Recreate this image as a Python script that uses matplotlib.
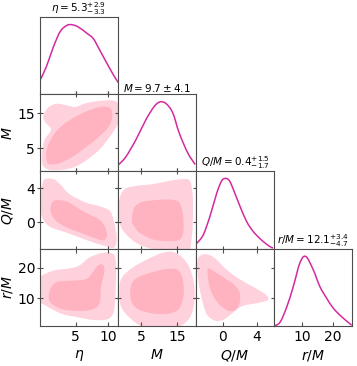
import numpy as np
import matplotlib
matplotlib.use("Agg")
import matplotlib.pyplot as plt
from matplotlib.path import Path
from matplotlib.patches import PathPatch

# parameters
labels = [r"$\eta$", r"$M$", r"$Q/M$", r"$r/M$"]
titles = [r"$\eta = 5.3^{+2.9}_{-3.3}$", r"$M = 9.7 \pm 4.1$",
          r"$Q/M = 0.4^{+1.5}_{-1.7}$", r"$r/M = 12.1^{+3.4}_{-4.7}$"]
limits = [(-0.5, 11.5), (-1.5, 20.3), (-3.1, 6.0), (0.8, 26.3)]
ticks = [[5, 10], [5, 15], [0, 4], [10, 20]]

# 1D marginals (relative density)
eta_x = [-0.5, 0.5, 1.55, 2.6, 3.6, 4.4, 5.4, 6.7, 7.7, 8.7, 9.8, 10.8, 11.55]
eta_pdf = [0.18, 0.36, 0.61, 0.81, 0.89, 0.90, 0.87, 0.79, 0.72, 0.57, 0.40, 0.25, 0.15]
M_x = [-1.3, 0.7, 3.5, 6.3, 8.6, 10.2, 11.9, 13.8, 15.6, 18.0, 20.1]
M_pdf = [0.09, 0.19, 0.41, 0.67, 0.84, 0.90, 0.88, 0.76, 0.50, 0.24, 0.09]
QM_x = [-3.0, -2.25, -1.47, -0.68, -0.1, 0.35, 0.8, 1.25, 2.03, 2.82, 3.6, 4.57, 5.5, 5.9]
QM_pdf = [0.07, 0.18, 0.42, 0.72, 0.88, 0.91, 0.88, 0.77, 0.55, 0.35, 0.22, 0.11, 0.03, 0.01]
rM_x = [0.8, 2.8, 5.0, 7.1, 9.3, 11.2, 13.6, 15.8, 18.0, 20.2, 22.9, 26.2]
rM_pdf = [0.0, 0.05, 0.25, 0.51, 0.82, 0.90, 0.73, 0.51, 0.36, 0.23, 0.12, 0.01]

# 2D credible regions (outer = 95%, inner = 68%), boundary points
eta_M_outer = [(0.0, 14.0), (0.7, 16.4), (2.0, 17.6), (3.8, 17.1), (5.0, 16.7), (6.6, 17.8),
               (9.1, 18.5), (11.2, 18.3), (11.8, 15.9), (11.6, 12.2), (9.1, 5.6), (7.1, 2.3),
               (5.0, -0.1), (3.0, -1.0), (0.9, -1.0), (-0.1, 0.4), (-0.2, 3.7), (0.2, 7.4),
               (1.2, 10.3), (0.4, 12.2)]
eta_M_inner = [(0.6, 1.0), (0.5, 4.5), (1.5, 8.6), (3.0, 11.6), (5.0, 14.0), (7.1, 15.8),
               (9.1, 16.8), (10.4, 16.2), (10.6, 13.8), (10.0, 11.0), (8.4, 8.0), (6.6, 5.4),
               (4.5, 2.6), (2.7, 1.0), (1.5, 0.5)]
eta_QM_outer = [(0.27, 5.1), (1.55, 5.1), (2.6, 4.5), (4.1, 3.3), (6.7, 2.3), (8.7, 1.9),
                (10.3, 1.3), (11.0, -0.3), (11.3, -2.0), (10.8, -3.0), (9.2, -2.7), (6.7, -2.1),
                (3.6, -1.2), (1.0, -0.5), (-0.2, 0.7), (-0.4, 2.7), (-0.2, 4.3)]
eta_QM_inner = [(1.55, 2.5), (2.8, 2.6), (4.1, 2.3), (5.7, 1.5), (7.2, 0.9), (8.7, 0.3),
                (9.5, -0.5), (9.8, -1.6), (9.2, -2.1), (7.7, -1.8), (5.7, -1.2), (3.6, -0.6),
                (1.8, 0.3), (1.1, 1.5)]
M_QM_outer = [(-1.1, 2.7), (0.3, 3.9), (3.5, 4.3), (8.2, 4.5), (12.8, 4.9), (16.6, 5.1),
              (18.6, 4.9), (19.4, 3.1), (19.4, -0.1), (18.9, -2.4), (18.0, -3.3), (11.0, -3.3),
              (5.4, -2.8), (1.7, -1.8), (-0.7, -0.5), (-1.3, 1.1)]
M_QM_inner = [(2.4, 0.1), (2.8, 1.5), (4.5, 2.3), (8.2, 2.6), (12.8, 2.7), (15.5, 2.4),
              (16.6, 1.1), (16.8, -0.9), (15.8, -2.0), (12.8, -2.2), (8.2, -2.0), (4.5, -1.2),
              (3.1, -0.5)]
eta_rM_outer = [(-0.7, 16.3), (1.45, 19.0), (4.0, 19.8), (5.5, 20.7), (7.1, 23.4), (9.1, 24.9),
                (10.8, 24.5), (11.2, 20.7), (11.1, 10.7), (10.8, 5.2), (9.8, 3.0), (7.6, 2.8),
                (5.5, 3.6), (3.0, 4.7), (0.9, 6.9), (-0.7, 9.6)]
eta_rM_inner = [(0.84, 10.7), (1.2, 13.5), (2.2, 15.4), (4.0, 15.7), (6.6, 16.3), (7.6, 18.5),
                (8.4, 20.7), (9.2, 21.0), (9.4, 18.5), (8.9, 14.0), (8.7, 8.5), (7.6, 6.3),
                (5.5, 5.8), (3.0, 6.3), (1.2, 8.3)]
M_rM_outer = [(-1.1, 13.0), (-0.4, 16.8), (2.6, 20.1), (7.2, 23.1), (11.4, 25.1), (14.7, 24.9),
              (18.0, 21.2), (19.7, 15.1), (19.8, 8.5), (18.6, 3.6), (15.6, 0.6), (11.0, 0.0),
              (5.4, 0.6), (1.7, 3.6), (-0.7, 7.4)]
M_rM_inner = [(1.9, 11.8), (2.8, 15.7), (6.3, 17.9), (11.9, 19.6), (15.2, 19.3), (16.6, 16.3),
              (16.8, 10.7), (15.2, 6.1), (11.0, 4.7), (5.4, 5.7), (2.6, 8.0)]
QM_rM_outer = [(-2.9, 22.9), (-2.1, 24.5), (-1.0, 23.4), (0.4, 19.6), (1.95, 16.3), (3.9, 13.2),
               (5.1, 11.0), (5.3, 9.4), (4.3, 8.5), (2.35, 7.4), (1.2, 5.2), (0.2, 3.0),
               (-0.8, 2.5), (-1.85, 4.7), (-2.5, 10.7), (-2.9, 17.4)]
QM_rM_inner = [(-1.7, 19.8), (-0.8, 18.5), (0.4, 16.3), (1.4, 14.3), (2.0, 11.8), (2.0, 8.5),
               (1.5, 6.1), (0.7, 5.8), (-0.2, 7.4), (-1.0, 10.2), (-1.5, 13.5), (-1.7, 16.8)]

marginals = [(eta_x, eta_pdf), (M_x, M_pdf), (QM_x, QM_pdf), (rM_x, rM_pdf)]
regions = {
    (1, 0): (eta_M_outer, eta_M_inner),
    (2, 0): (eta_QM_outer, eta_QM_inner),
    (2, 1): (M_QM_outer, M_QM_inner),
    (3, 0): (eta_rM_outer, eta_rM_inner),
    (3, 1): (M_rM_outer, M_rM_inner),
    (3, 2): (QM_rM_outer, QM_rM_inner),
}

line_color = "#d42aa0"
outer_color = "#ffd1dc"
inner_color = "#ffb3c0"
spine_color = "0.3"


def smooth_path(pts, closed=True):
    # catmull-rom through the read points, drawn as cubic bezier segments
    pts = np.asarray(pts, float)
    n = len(pts)
    if closed:
        P = np.vstack([pts[-1], pts, pts[0], pts[1]])
        segs = n
    else:
        P = np.vstack([pts[0], pts, pts[-1]])
        segs = n - 1
    verts = [P[1]]
    codes = [Path.MOVETO]
    for k in range(segs):
        p0, p1, p2, p3 = P[k], P[k + 1], P[k + 2], P[k + 3]
        verts += [p1 + (p2 - p0) / 6, p2 - (p3 - p1) / 6, p2]
        codes += [Path.CURVE4] * 3
    return Path(verts, codes)


fig, axes = plt.subplots(4, 4, figsize=(3.57, 3.66), dpi=100)
fig.subplots_adjust(left=0.112, right=0.986, top=0.9536, bottom=0.1093, wspace=0, hspace=0)

for i in range(4):
    for j in range(4):
        ax = axes[i, j]
        if j > i:
            ax.set_visible(False)
            continue
        for s in ax.spines.values():
            s.set_color(spine_color)
            s.set_linewidth(0.8)
        ax.set_xlim(limits[j])
        ax.set_xticks(ticks[j])
        if i == j:
            x, y = marginals[i]
            ax.add_patch(PathPatch(smooth_path(np.column_stack([x, y]), closed=False),
                                   fill=False, edgecolor=line_color, lw=1.1))
            ax.set_ylim(0, 1.0)
            ax.set_yticks([])
            ax.set_title(titles[i], fontsize=7.5, pad=1.5)
            ax.tick_params(direction="inout", length=5, width=0.8, color=spine_color,
                           labelsize=10, labelbottom=(i == 3))
        else:
            outer, inner = regions[(i, j)]
            ax.add_patch(PathPatch(smooth_path(outer), facecolor=outer_color, edgecolor="none"))
            ax.add_patch(PathPatch(smooth_path(inner), facecolor=inner_color, edgecolor="none"))
            ax.set_ylim(limits[i])
            ax.set_yticks(ticks[i])
            ax.tick_params(direction="inout", length=5, width=0.8, color=spine_color,
                           top=True, right=True, labelsize=10, pad=1,
                           labelbottom=(i == 3), labelleft=(j == 0))
        if i == 3:
            ax.xaxis.set_tick_params(direction="in", length=3, pad=3)
            ax.set_xlabel(labels[j], fontsize=10, labelpad=3)
        if j == 0 and i > 0:
            ax.set_ylabel(labels[i], fontsize=10, labelpad=2)

fig.align_ylabels(axes[1:, 0])
fig.savefig("out.png", dpi=100)
